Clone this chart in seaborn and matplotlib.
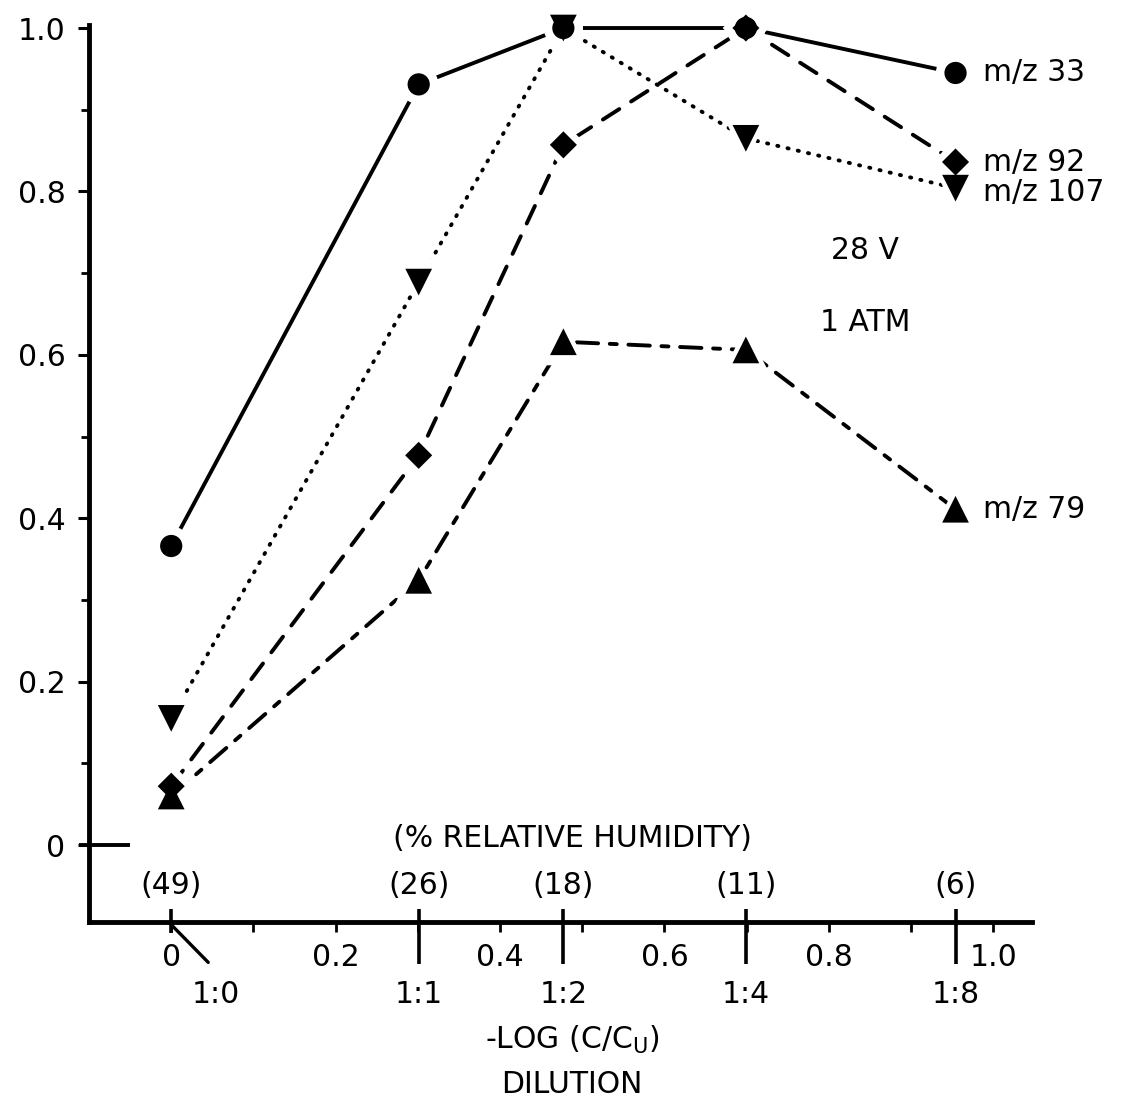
import matplotlib
matplotlib.use("Agg")
import matplotlib.pyplot as plt
import pandas as pd
import seaborn as sns

# ---------------- data ----------------
log_dilution = [0.0, 0.301, 0.477, 0.699, 0.954]
dilution_labels = ["1:0", "1:1", "1:2", "1:4", "1:8"]
humidity_labels = ["(49)", "(26)", "(18)", "(11)", "(6)"]
series_names = ["m/z 33", "m/z 92", "m/z 107", "m/z 79"]
mz33 = [0.366, 0.931, 1.0, 1.0, 0.945]
mz92 = [0.072, 0.477, 0.857, 1.0, 0.836]
mz107 = [0.155, 0.689, 1.0, 0.865, 0.804]
mz79 = [0.060, 0.324, 0.616, 0.606, 0.411]
x_minor_ticks = [0.0, 0.1, 0.2, 0.3, 0.4, 0.5, 0.6, 0.7, 0.8, 0.9, 1.0]
x_tick_values = [0.0, 0.2, 0.4, 0.6, 0.8, 1.0]
x_tick_labels = ["0", "0.2", "0.4", "0.6", "0.8", "1.0"]
y_tick_values = [0.0, 0.2, 0.4, 0.6, 0.8, 1.0]
y_tick_labels = ["0", "0.2", "0.4", "0.6", "0.8", "1.0"]
y_minor_ticks = [0.1, 0.3, 0.5, 0.7, 0.9]

values = {"m/z 33": mz33, "m/z 92": mz92, "m/z 107": mz107, "m/z 79": mz79}
df = pd.DataFrame(
    [(name, x, y) for name in series_names for x, y in zip(log_dilution, values[name])],
    columns=["series", "x", "y"],
)

# ---------------- style ----------------
sns.set_theme(style="white")
plt.rcParams["font.family"] = ["DejaVu Sans"]
plt.rcParams["text.color"] = "black"
plt.rcParams["xtick.color"] = "black"
plt.rcParams["ytick.color"] = "black"
FS = 21.5

markers = {"m/z 33": "o", "m/z 92": "D", "m/z 107": "v", "m/z 79": "^"}
dashes = {"m/z 33": "", "m/z 92": (5.0, 3.6), "m/z 107": (0.3, 2.4),
          "m/z 79": (5.5, 3.0, 1.8, 3.0)}
black_sizes = {"m/z 33": 256, "m/z 92": 190, "m/z 107": 370, "m/z 79": 370}
white_sizes = {"m/z 33": 800, "m/z 92": 560, "m/z 107": 1150, "m/z 79": 1150}

fig = plt.figure(figsize=(11.29, 11.0), dpi=100)
ax = fig.add_axes([0.07883, 0.16182, 0.83525, 0.81545])

sns.lineplot(data=df, x="x", y="y", style="series", style_order=series_names,
             dashes=dashes, color="black", lw=2.8, sort=False, legend=False,
             errorbar=None, dash_capstyle="round", solid_capstyle="round",
             clip_on=False, zorder=2, ax=ax)
sns.scatterplot(data=df, x="x", y="y", style="series", style_order=series_names,
                markers=markers, size="series", sizes=white_sizes,
                size_order=series_names, color="white", linewidth=0,
                legend=False, clip_on=False, zorder=3, ax=ax)
sns.scatterplot(data=df, x="x", y="y", style="series", style_order=series_names,
                markers=markers, size="series", sizes=black_sizes,
                size_order=series_names, color="black", linewidth=0,
                legend=False, clip_on=False, zorder=4, ax=ax)

ax.set_xlim(-0.1, 1.047)
ax.set_ylim(-0.0942, 1.0037)
ax.set_xlabel("")
ax.set_ylabel("")

for side in ("top", "right"):
    ax.spines[side].set_visible(False)
for side in ("left", "bottom"):
    ax.spines[side].set_linewidth(3.5)
    ax.spines[side].set_color("black")
    ax.spines[side].set_capstyle("projecting")

# y axis ticks
ax.set_yticks(y_tick_values, labels=y_tick_labels)
ax.set_yticks(y_minor_ticks, minor=True)
ax.tick_params(axis="y", which="major", direction="out", length=8, width=2.2,
               color="black", labelcolor="black", labelsize=FS, pad=9, left=True)
ax.tick_params(axis="y", which="minor", direction="out", length=6, width=2.0,
               color="black", left=True)

# x axis ticks: short ticks every 0.1, numeric labels at 0.2
ax.xaxis.remove_overlapping_locs = False
ax.set_xticks(log_dilution, labels=[""] * len(log_dilution))
lab_map = dict(zip(x_tick_values, x_tick_labels))
ax.set_xticks(x_minor_ticks,
              labels=[lab_map.get(round(v, 1), "") for v in x_minor_ticks],
              minor=True)
ax.tick_params(axis="x", which="major", length=0, bottom=True)
ax.tick_params(axis="x", which="minor", direction="out", length=7, width=2.0,
               color="black", labelcolor="black", labelsize=FS, pad=8, bottom=True)

xt = ax.get_xaxis_transform()
yt = ax.get_yaxis_transform()

# long dilution ticks crossing the axis
ax.vlines(log_dilution[1:], -0.047, 0.015, transform=xt, colors="black",
          lw=2.6, clip_on=False)
ax.vlines(log_dilution[:1], -0.012, 0.014, transform=xt, colors="black",
          lw=2.6, clip_on=False)
# diagonal pointer to 1:0
ax.plot([log_dilution[0], log_dilution[0] + 0.045], [-0.003, -0.045],
        transform=xt, color="black", lw=2.4, clip_on=False)
# zero tick on y axis
ax.hlines([y_tick_values[0]], -0.011, 0.043, transform=yt, colors="black",
          lw=2.8, clip_on=False)

# dilution labels
for i, (x, lab) in enumerate(zip(log_dilution, dilution_labels)):
    dx = 0.054 if i == 0 else 0.0
    ax.text(x + dx, -0.081, lab, transform=xt, ha="center", va="center",
            fontsize=FS, color="black")

# humidity labels
for x, lab in zip(log_dilution, humidity_labels):
    ax.text(x, -0.049, lab, ha="center", va="center", fontsize=FS, color="black")
ax.text(0.488, 0.008, "(% RELATIVE HUMIDITY)", ha="center", va="center",
        fontsize=FS, color="black")

# series labels
for name in series_names:
    ax.text(log_dilution[-1] + 0.033, values[name][-1] - (0.005 if name == "m/z 107" else 0),
            name, ha="left", va="center", fontsize=FS, color="black")

ax.text(0.844, 0.728, "28 V", ha="center", va="center", fontsize=FS, color="black")
ax.text(0.844, 0.640, "1 ATM", ha="center", va="center", fontsize=FS, color="black")

ax.text(0.512, -0.1316, "-LOG (C/C$_{\\mathregular{U}}$)", transform=ax.transAxes,
        ha="center", va="center", fontsize=FS, color="black")
ax.text(0.512, -0.1817, "DILUTION", transform=ax.transAxes,
        ha="center", va="center", fontsize=FS, color="black")

fig.savefig("out.png", dpi=100, facecolor="white")
